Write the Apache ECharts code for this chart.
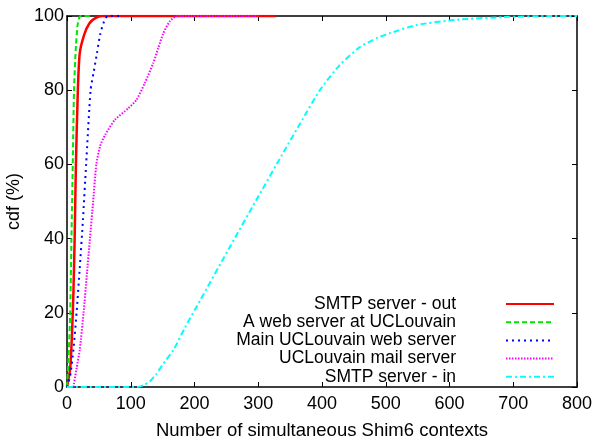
<!DOCTYPE html>
<html style="height: 100%">
<head>
<meta charset="utf-8">
<title>cdf of simultaneous Shim6 contexts</title>
<script type="text/javascript" src="https://cdn.jsdelivr.net/npm/echarts@6/dist/echarts.min.js"></script>
</head>
<body style="height: 100%; margin: 0; background: #fff;">
<div id="container" style="width: 595px; height: 441px;"></div>
<script type="text/javascript">
// curves: [contexts, cdf %]
var smtpOut = [[0,0],[5,5],[8,15],[10,25],[12,40],[14,60],[17,80],[20,90],[27,95],[35,98],[45,99.5],[55,100],[328,100]];
var webAtUcl = [[0,0],[3,10],[5,20],[7,40],[9,60],[11,80],[14,92],[17,98],[21,100],[36,100]];
var mainWeb = [[0,0],[5,3],[10,10],[15,20],[20,32],[25,45],[30,60],[37,80],[42,85],[47,90],[52,95],[57,98],[64,100],[85,100]];
var mailServer = [[10,0],[15,5],[20,10],[26,20],[31,30],[36,40],[41,50],[46,60],[52,65],[60,68],[75,72],[96,75.1],[109,77.4],[122,81.9],[135,87.2],[143,91.3],[151,95.3],[161,98.5],[172,100],[300,100]];
var smtpIn = [[0,0],[110,0],[120,0.5],[130,1.5],[140,3.5],[150,6],[167,10],[185,16],[209,23.4],[253,37],[297,50.4],[342,64],[366,71.1],[397,80.1],[428,86.8],[460,91.7],[488,94.2],[507,95.4],[549,97.6],[611,99],[684,99.7],[758,100],[800,100]];

var seriesNames = ['SMTP server - out', 'A web server at UCLouvain', 'Main UCLouvain web server', 'UCLouvain mail server', 'SMTP server - in'];
var seriesData = [smtpOut, webAtUcl, mainWeb, mailServer, smtpIn];
var colors = ['#ff0000', '#00e600', '#0000ff', '#ff00ff', '#00ffff'];
var dashes = ['solid', [5, 3], [2, 4], [1.5, 1.5], [6, 3, 2, 3]];
var widths = [2.5, 2, 2, 2, 2];

var font = 'Liberation Sans, Arial, sans-serif';
var myChart = echarts.init(document.getElementById('container'));

var series = [];
var legends = [];
for (var i = 0; i < seriesData.length; i++) {
    series.push({
        name: seriesNames[i],
        type: 'line',
        data: seriesData[i],
        showSymbol: false,
        symbol: 'none',
        smooth: 0.2,
        lineStyle: { color: colors[i], width: widths[i], type: dashes[i] },
        itemStyle: { color: colors[i] }
    });
    legends.push({
        data: [seriesNames[i]],
        right: 40,
        top: 295 + i * 18.2,
        align: 'right',
        itemWidth: 48,
        itemHeight: 14,
        padding: 0,
        selectedMode: false,
        itemStyle: { opacity: 0 },
        textStyle: { fontFamily: font, fontSize: 17.5, color: '#000', padding: [0, 45, 0, 0] }
    });
}

function ticks() {
    return { show: true, inside: true, length: 5, lineStyle: { color: '#000', width: 1 } };
}
function frameLine() {
    return { show: true, onZero: false, lineStyle: { color: '#000', width: 1.5 } };
}

var option = {
    animation: false,
    grid: { left: 67, right: 18, top: 16, bottom: 54, outerBoundsMode: 'none' },
    legend: legends,
    xAxis: [{
        type: 'value', min: 0, max: 800, interval: 100,
        name: 'Number of simultaneous Shim6 contexts',
        nameLocation: 'middle', nameGap: 34,
        nameTextStyle: { fontFamily: font, fontSize: 18.5, color: '#000' },
        axisLine: frameLine(),
        axisTick: ticks(),
        axisLabel: { fontFamily: font, fontSize: 18, color: '#000', margin: 8 },
        splitLine: { show: false }
    }, {
        type: 'value', position: 'top', min: 0, max: 800, interval: 100,
        axisLine: frameLine(),
        axisTick: ticks(),
        axisLabel: { show: false },
        splitLine: { show: false }
    }],
    yAxis: [{
        type: 'value', min: 0, max: 100, interval: 20,
        name: 'cdf (%)',
        nameLocation: 'middle', nameGap: 32,
        nameTextStyle: { fontFamily: font, fontSize: 18, color: '#000' },
        axisLine: frameLine(),
        axisTick: ticks(),
        axisLabel: { fontFamily: font, fontSize: 18, color: '#000', margin: 3 },
        splitLine: { show: false }
    }, {
        type: 'value', position: 'right', min: 0, max: 100, interval: 20,
        axisLine: frameLine(),
        axisTick: ticks(),
        axisLabel: { show: false },
        splitLine: { show: false }
    }],
    series: series
};
myChart.setOption(option);
</script>
</body>
</html>
